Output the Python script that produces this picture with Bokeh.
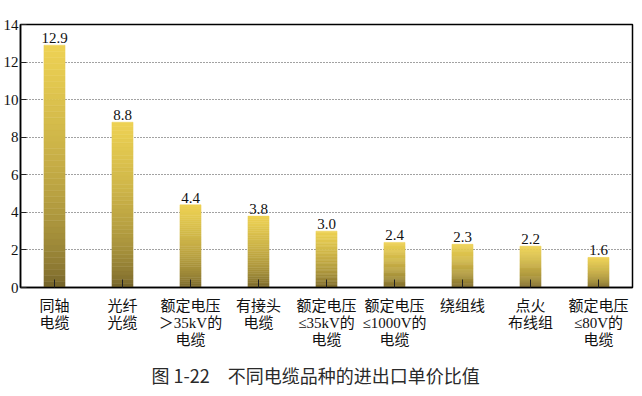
from bokeh.plotting import figure
from bokeh.models import (Range1d, FixedTicker, Title, ColumnDataSource, LinearAxis)
from bokeh.core.properties import value
from bokeh.embed import file_html
from bokeh.resources import INLINE

categories = [
    "同轴\n电缆",
    "光纤\n光缆",
    "额定电压\n＞35kV的\n电缆",
    "有接头\n电缆",
    "额定电压\n≤35kV的\n电缆",
    "额定电压\n≤1000V的\n电缆",
    "绕组线",
    "点火\n布线组",
    "额定电压\n≤80V的\n电缆",
]
values = [12.9, 8.8, 4.4, 3.8, 3.0, 2.4, 2.3, 2.2, 1.6]
y_ticks = [0, 2, 4, 6, 8, 10, 12, 14]
caption = "图 1-22　不同电缆品种的进出口单价比值"

SERIF = "'Liberation Serif', 'Noto Sans CJK SC'"
xs = list(range(len(categories)))

p = figure(
    x_range=Range1d(-0.5, len(categories) - 0.5),
    y_range=Range1d(0, 14),
    width=634, height=396,
    output_backend="svg", toolbar_location=None,
    min_border_left=0, min_border_right=2, min_border_top=24, min_border_bottom=100,
)
p.background_fill_color = "white"
p.border_fill_color = "white"
p.outline_line_color = "black"
p.outline_line_width = 1.5

# gradient bars, drawn as stacked slices of each bar
N = 40
top_c = (238, 210, 84)
bot_c = (108, 92, 40)
for k in range(N):
    t = (k + 0.5) / N
    f = t ** 0.55
    col = tuple(int(bot_c[i] + (top_c[i] - bot_c[i]) * f) for i in range(3))
    hexc = "#%02x%02x%02x" % col
    src = ColumnDataSource(dict(
        x=xs,
        bottom=[v * k / N for v in values],
        top=[v * (k + 1) / N for v in values],
    ))
    p.vbar(x="x", bottom="bottom", top="top", width=0.31, source=src,
           fill_color=hexc, line_color=hexc, line_width=0.5)

lab_src = ColumnDataSource(dict(x=xs, y=values, t=[f"{v:.1f}" for v in values]))
p.text(x="x", y="y", text="t", source=lab_src, text_align="center",
       text_baseline="bottom", y_offset=-2, text_font=value("Liberation Serif"),
       text_font_size="15px", text_color="#111111")

# grid
p.xgrid.grid_line_color = None
p.ygrid.ticker = FixedTicker(ticks=y_ticks)
p.ygrid.grid_line_color = "#444444"
p.ygrid.grid_line_dash = "1 2"
p.ygrid.grid_line_width = 1

# y axis
p.yaxis.ticker = FixedTicker(ticks=y_ticks)
p.yaxis.major_tick_in = 6
p.yaxis.major_tick_out = 0
p.yaxis.minor_tick_line_color = None
p.yaxis.axis_line_color = "black"
p.yaxis.axis_line_width = 1.5
p.yaxis.major_tick_line_color = "#222222"
p.yaxis.major_label_text_font = "Liberation Serif"
p.yaxis.major_label_text_font_size = "15px"
p.yaxis.major_label_text_color = "#111111"
p.yaxis.major_label_standoff = 2

# x axis: one axis per label line, stacked below the frame
lines = [c.split("\n") for c in categories]
def line_map(i):
    return {x: (ls[i] if i < len(ls) else " ") for x, ls in zip(xs, lines)}

ax1 = p.xaxis[0]
ax1.ticker = FixedTicker(ticks=xs)
ax1.major_tick_in = 8
ax1.major_tick_out = 0
ax1.minor_tick_line_color = None
ax1.major_tick_line_color = "#222222"
ax1.axis_line_color = "black"
ax1.axis_line_width = 1.5
ax1.major_label_standoff = 10
ax1.major_label_overrides = line_map(0)

for i in (1, 2):
    ax = LinearAxis(ticker=FixedTicker(ticks=xs), major_label_overrides=line_map(i))
    ax.major_tick_in = 0
    ax.major_tick_out = 0
    ax.major_tick_line_color = None
    ax.minor_tick_line_color = None
    ax.axis_line_color = None
    ax.major_label_standoff = -2
    p.add_layout(ax, "below")

for ax in p.xaxis:
    ax.major_label_text_font = SERIF
    ax.major_label_text_font_size = "15px"
    ax.major_label_text_color = "#111111"

p.add_layout(Title(text=caption, align="left", offset=131, standoff=18,
                   text_font="Noto Sans CJK SC", text_font_size="18px",
                   text_font_style="normal", text_color="#2a2a2a"), "below")

open("out.html", "w").write(file_html(p, INLINE))
